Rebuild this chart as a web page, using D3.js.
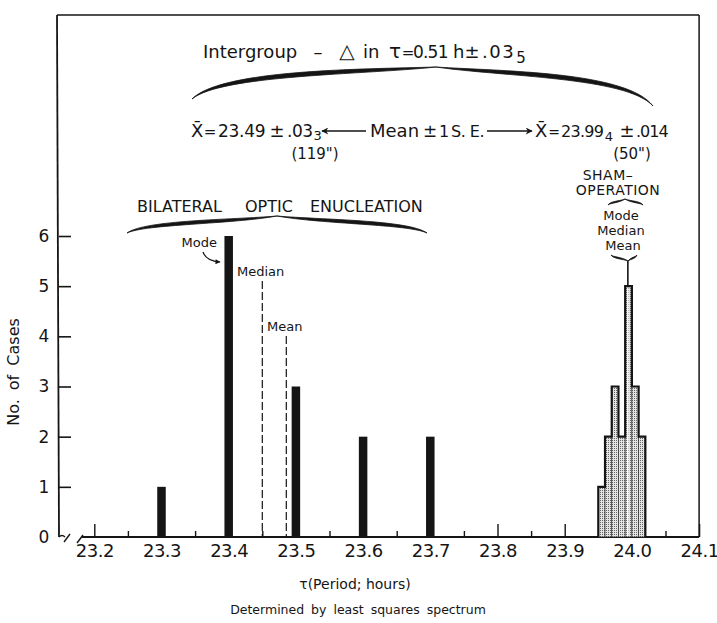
<!DOCTYPE html>
<html>
<head>
<meta charset="utf-8">
<script src="https://cdn.jsdelivr.net/npm/d3@7"></script>
<style>
  body { margin: 0; background: #fff; }
  svg text { font-family: "DejaVu Sans", "Liberation Sans", sans-serif; fill: #151515; }
</style>
</head>
<body>
<svg id="chart" width="717" height="623"></svg>
<script>
// Free-running period (hours) after bilateral optic enucleation: one bar per period class
const enucleatedPeriods = [23.3, 23.4, 23.5, 23.6, 23.7];
const enucleatedCounts  = [1, 6, 3, 2, 2];

// Sham-operated animals: histogram bins of 0.01 h
const shamBinStarts = [23.95, 23.96, 23.97, 23.98, 23.99, 24.00, 24.01];
const shamCounts    = [1, 2, 3, 2, 5, 3, 2];
const shamBinWidth  = 0.01;

// Summary statistics marked on the chart
const enucleatedMedian = 23.45;
const shamMean = 23.994;

// Axis ticks
const xTickValues = [23.2, 23.3, 23.4, 23.5, 23.6, 23.7, 23.8, 23.9, 24.0, 24.1];
const xTickLabels = ["23.2", "23.3", "23.4", "23.5", "23.6", "23.7", "23.8", "23.9", "24.0", "24.1"];
const xMinorTicks = [23.25, 23.35, 23.45, 23.55, 23.65, 23.75, 23.85, 23.95, 24.05];
const yTickValues = [0, 1, 2, 3, 4, 5, 6];
const yTickLabels = ["0", "1", "2", "3", "4", "5", "6"];

const svg = d3.select("#chart");
const ink = "#151515";

const x = d3.scaleLinear().domain([23.2, 24.1]).range([94.3, 699.1]);
const y = d3.scaleLinear().domain([0, 6]).range([537, 236]);

// stippled fill for the sham histogram
const defs = svg.append("defs");
const pat = defs.append("pattern").attr("id", "stipple")
  .attr("width", 2).attr("height", 2).attr("patternUnits", "userSpaceOnUse");
pat.append("rect").attr("width", 2).attr("height", 2).attr("fill", "#e4e4e4");
pat.append("rect").attr("width", 1).attr("height", 1).attr("fill", "#666");

defs.append("marker").attr("id", "arrow")
  .attr("viewBox", "0 0 10 10").attr("refX", 9).attr("refY", 5)
  .attr("markerWidth", 9).attr("markerHeight", 7).attr("markerUnits", "userSpaceOnUse")
  .attr("orient", "auto")
  .append("path").attr("d", "M0,0 L10,5 L0,10 L3,5 Z").attr("fill", ink);

defs.append("marker").attr("id", "arrowSmall")
  .attr("viewBox", "0 0 10 10").attr("refX", 9).attr("refY", 5)
  .attr("markerWidth", 6).attr("markerHeight", 5).attr("markerUnits", "userSpaceOnUse")
  .attr("orient", "auto")
  .append("path").attr("d", "M0,0 L10,5 L0,10 Z").attr("fill", ink);

// ---------- frame and axes ----------
const x0 = 58, yBase = y(0), yTop = 15, xRight = x(24.1);
svg.append("line").attr("x1", x0 - 1).attr("y1", yTop).attr("x2", x0 + 1).attr("y2", yBase)
  .attr("stroke", ink).attr("stroke-width", 1.8);
svg.append("line").attr("x1", x0 - 1).attr("y1", yTop).attr("x2", xRight).attr("y2", yTop)
  .attr("stroke", ink).attr("stroke-width", 1.5);
svg.append("line").attr("x1", xRight).attr("y1", yTop).attr("x2", xRight).attr("y2", yBase)
  .attr("stroke", ink).attr("stroke-width", 1.5);
svg.append("line").attr("x1", 82).attr("y1", yBase).attr("x2", xRight).attr("y2", yBase)
  .attr("stroke", ink).attr("stroke-width", 1.8);

// axis break marks
svg.append("path").attr("d", `M${x0 + 1},${yBase} q3,-3 6,0 M${x0 + 6},${yBase + 5} L${x0 + 12},${yBase - 3}`)
  .attr("fill", "none").attr("stroke", ink).attr("stroke-width", 1.4);
svg.append("path").attr("d", `M77,${yBase + 6} L83,${yBase - 2}`)
  .attr("fill", "none").attr("stroke", ink).attr("stroke-width", 1.4);

const yAxis = svg.append("g").attr("transform", `translate(${x0 + 1},0)`)
  .call(d3.axisLeft(y).tickValues(yTickValues).tickFormat((d, i) => yTickLabels[i])
    .tickSizeInner(-12).tickSizeOuter(0).tickPadding(9));
yAxis.select(".domain").remove();
yAxis.selectAll(".tick line").attr("stroke", ink).attr("stroke-width", 1.6)
  .filter(d => d === 0).remove();
yAxis.selectAll(".tick text").attr("font-size", 17).attr("fill", ink)
  .attr("font-family", "'Liberation Sans', sans-serif").attr("text-anchor", "middle").attr("x", -15);

const xAxis = svg.append("g").attr("transform", `translate(0,${yBase})`)
  .call(d3.axisBottom(x).tickValues(xTickValues).tickFormat((d, i) => xTickLabels[i])
    .tickSizeInner(-13).tickSizeOuter(0).tickPadding(7));
xAxis.select(".domain").remove();
xAxis.selectAll(".tick line").attr("stroke", ink).attr("stroke-width", 1.4);
xAxis.selectAll(".tick text").attr("font-size", 18).attr("fill", ink)
  .attr("font-family", "'Liberation Sans', sans-serif").attr("letter-spacing", -0.5);

const xMinor = svg.append("g").attr("transform", `translate(0,${yBase})`)
  .call(d3.axisBottom(x).tickValues(xMinorTicks).tickFormat("").tickSizeInner(-6).tickSizeOuter(0));
xMinor.select(".domain").remove();
xMinor.selectAll(".tick line").attr("stroke", ink).attr("stroke-width", 1.4);

// ---------- enucleated animals: bars ----------
const barW = 8.5;
svg.append("g").selectAll("rect").data(enucleatedPeriods).join("rect")
  .attr("x", d => x(d) - barW / 2)
  .attr("y", (d, i) => y(enucleatedCounts[i]))
  .attr("width", barW)
  .attr("height", (d, i) => y(0) - y(enucleatedCounts[i]))
  .attr("fill", ink);

// median and mean of the enucleated group
const enucleatedMean = d3.sum(enucleatedPeriods, (p, i) => p * enucleatedCounts[i]) / d3.sum(enucleatedCounts);
svg.append("line").attr("x1", x(enucleatedMedian)).attr("x2", x(enucleatedMedian))
  .attr("y1", 281).attr("y2", yBase).attr("stroke", ink).attr("stroke-width", 1.2)
  .attr("stroke-dasharray", "8,3");
svg.append("line").attr("x1", x(enucleatedMean)).attr("x2", x(enucleatedMean))
  .attr("y1", 336).attr("y2", yBase).attr("stroke", ink).attr("stroke-width", 1.2)
  .attr("stroke-dasharray", "8,3");

// ---------- sham-operated animals: stippled histogram ----------
const sham = svg.append("g");
sham.selectAll("rect").data(shamBinStarts).join("rect")
  .attr("x", d => x(d))
  .attr("y", (d, i) => y(shamCounts[i]))
  .attr("width", d => x(d + shamBinWidth) - x(d))
  .attr("height", (d, i) => y(0) - y(shamCounts[i]))
  .attr("fill", "url(#stipple)")
  .attr("stroke", "#333").attr("stroke-width", 0.7);

const outline = [[shamBinStarts[0], 0]];
shamBinStarts.forEach((s, i) => {
  outline.push([s, shamCounts[i]]);
  outline.push([s + shamBinWidth, shamCounts[i]]);
});
outline.push([shamBinStarts[shamBinStarts.length - 1] + shamBinWidth, 0]);
sham.append("path")
  .attr("d", d3.line().x(d => x(d[0])).y(d => y(d[1]))(outline))
  .attr("fill", "none").attr("stroke", ink).attr("stroke-width", 2.2);

const peak = d3.max(shamCounts);
sham.append("line").attr("x1", x(shamMean)).attr("x2", x(shamMean))
  .attr("y1", 261).attr("y2", y(peak)).attr("stroke", ink).attr("stroke-width", 1.6);
sham.append("line").attr("x1", x(shamMean)).attr("x2", x(shamMean))
  .attr("y1", y(peak) + 2).attr("y2", yBase - 1).attr("stroke", "#fff").attr("stroke-width", 1.4);

// ---------- braces ----------
function brace(x1, y1, xc, yc, x2, y2, ymL, ymR, t) {
  const wL = xc - x1, wR = x2 - xc;
  const p = d3.path();
  p.moveTo(x1, y1);
  p.bezierCurveTo(x1 + 0.12 * wL, ymL - t, xc - 0.3 * wL, ymL - t, xc, yc);
  p.bezierCurveTo(xc + 0.3 * wR, ymR - t, x2 - 0.12 * wR, ymR - t, x2, y2);
  p.bezierCurveTo(x2 - 0.12 * wR, ymR + t, xc + 0.3 * wR, ymR + t, xc, yc);
  p.bezierCurveTo(xc - 0.3 * wL, ymL + t, x1 + 0.12 * wL, ymL + t, x1, y1);
  p.closePath();
  svg.append("path").attr("d", p.toString()).attr("fill", ink)
    .attr("stroke", ink).attr("stroke-width", 0.8).attr("stroke-linejoin", "round");
}
brace(192, 99, 436, 67, 653, 106, 72, 74, 2.8);
brace(127, 233, 277, 216, 427, 233, 222, 222, 2.2);
brace(608, 205, 625, 199, 643, 205, 202, 202, 0.9);
brace(611, 255, 628, 261, 637, 255, 258, 258, 0.9);

// ---------- text helpers ----------
function label(tx, ty, str, size, anchor = "start", extra = {}) {
  const t = svg.append("text").attr("x", tx).attr("y", ty).attr("font-size", size)
    .attr("text-anchor", anchor).text(str);
  Object.entries(extra).forEach(([k, v]) => t.attr(k, v));
  return t;
}
// a lowered small figure written right after a given text
function subscriptAfter(t, str, size, drop) {
  const bb = t.node().getBBox();
  return label(bb.x + bb.width + 1, +t.attr("y") + drop, str, size);
}

// intergroup difference line
label(203, 58, "Intergroup", 18);
label(318, 58, "–", 18, "middle");
label(347, 58, "△", 20, "middle");
label(363, 58, "in", 18);
label(395, 58, "τ", 20, "middle");
label(408, 58, "=", 15, "middle");
label(413, 58, "0.51", 17, "start", { "letter-spacing": -0.8 });
label(453, 58, "h", 18);
label(472, 58, "±", 18, "middle");
const d1 = label(482, 58, ".03", 18, "start", { "letter-spacing": 1.5 });
subscriptAfter(d1, "5", 15, 5);

// means ± 1 S.E.
label(191, 137, "X\u0304", 18);
label(210, 137, "=", 15, "middle");
label(218, 137, "23.49", 17, "start", { "letter-spacing": -0.3 });
label(277, 137, "±", 18, "middle");
const s1 = label(287, 137, ".03", 17, "start", { "letter-spacing": -0.5 });
subscriptAfter(s1, "3", 13, 3);
svg.append("line").attr("x1", 366).attr("y1", 131).attr("x2", 322).attr("y2", 131)
  .attr("stroke", ink).attr("stroke-width", 1.5).attr("marker-end", "url(#arrow)");
label(370, 137, "Mean", 18);
label(430, 137, "±", 17, "middle");
label(444, 137, "1", 16, "middle");
label(451, 137, "S. E.", 16, "start", { "letter-spacing": -0.5 });
svg.append("line").attr("x1", 487).attr("y1", 131).attr("x2", 532).attr("y2", 131)
  .attr("stroke", ink).attr("stroke-width", 1.5).attr("marker-end", "url(#arrow)");
label(535, 137, "X\u0304", 18);
label(554, 137, "=", 14, "middle");
const s2 = label(561, 137, "23.99", 16, "start", { "letter-spacing": -0.7 });
subscriptAfter(s2, "4", 13, 4);
label(627, 137, "±", 18, "middle");
label(636, 137, ".014", 16, "start", { "letter-spacing": -1 });
label(315, 159, "(119\")", 15, "middle");
label(632, 159, "(50\")", 15, "middle");

// group labels
label(137, 212, "BILATERAL", 16);
label(245, 212, "OPTIC", 16);
label(310, 212, "ENUCLEATION", 16);
label(608, 180, "SHAM–", 14, "middle", { "letter-spacing": 0.5 });
label(618, 195, "OPERATION", 14, "middle", { "letter-spacing": 0.5 });
label(621, 220, "Mode", 13, "middle");
label(621, 235, "Median", 13, "middle");
label(623, 250, "Mean", 13, "middle");

// enucleated group statistics
label(217, 247, "Mode", 13, "end");
svg.append("path").attr("d", "M203,252 Q206,261 220,262")
  .attr("fill", "none").attr("stroke", ink).attr("stroke-width", 1.2)
  .attr("marker-end", "url(#arrowSmall)");
label(237, 276, "Median", 13);
label(267, 331, "Mean", 13);

// axis titles
label(19, 372, "No. of Cases", 16, "middle", { transform: "rotate(-90,19,372)", "word-spacing": 4 });
label(355, 589, "τ(Period; hours)", 14, "middle");
label(358, 614, "Determined by least squares spectrum", 12.5, "middle", { "word-spacing": 3 });
</script>
</body>
</html>
